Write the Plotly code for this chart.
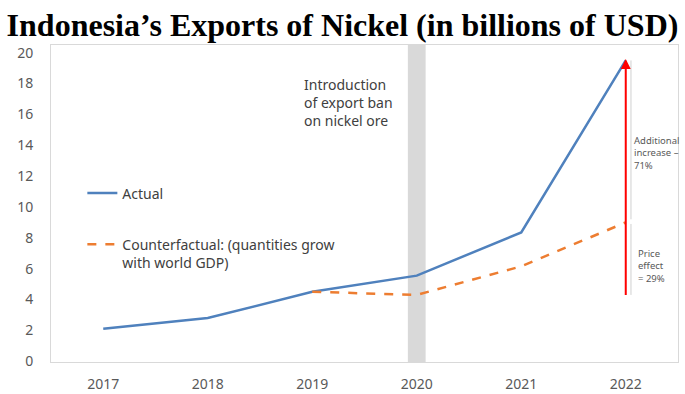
import plotly.graph_objects as go

years = [2017, 2018, 2019, 2020, 2021, 2022]
actual = [2.1, 2.8, 4.5, 5.55, 8.35, 19.5]
cf_years = [2019, 2020, 2021, 2022]
counterfactual = [4.5, 4.3, 6.15, 9.0]
y_ticks = [0, 2, 4, 6, 8, 10, 12, 14, 16, 18, 20]

BLUE = "#4f81bd"
ORANGE = "#ed7d31"
GRAY_TXT = "#595959"
FONT = "Noto Sans"

fig = go.Figure()
fig.add_trace(go.Scatter(x=years, y=actual, mode="lines", name="Actual",
                         line=dict(color=BLUE, width=2.5), legendgroup="a"))
fig.add_trace(go.Scatter(x=cf_years, y=counterfactual, mode="lines",
                         name="Counterfactual: (quantities grow<br>with world GDP)",
                         line=dict(color=ORANGE, width=2.5, dash="dash"), legendgroup="b"))

# ban band around 2020
fig.add_shape(type="rect", xref="x", yref="paper", x0=2019.915, x1=2020.085, y0=0, y1=1,
              fillcolor="#d9d9d9", line=dict(width=0), layer="below")

# brackets
fig.add_shape(type="line", xref="x", yref="y", x0=2022.05, x1=2022.05, y0=9.2, y1=19.5,
              line=dict(color="#d0d0d0", width=1))
fig.add_shape(type="line", xref="x", yref="y", x0=2022.05, x1=2022.05, y0=4.3, y1=8.9,
              line=dict(color="#d0d0d0", width=1))

# red arrow
fig.add_annotation(x=2022, y=19.6, ax=2022, ay=4.2, xref="x", yref="y", axref="x", ayref="y",
                   showarrow=True, arrowhead=2, arrowsize=1, arrowwidth=2, arrowcolor="#ff0000", text="")

fig.add_annotation(x=2022.06, y=13.5, xref="x", yref="y", xanchor="left", yanchor="middle",
                   text="Additional<br>increase –<br>71%", showarrow=False, align="left",
                   font=dict(family=FONT, size=9.5, color=GRAY_TXT))
fig.add_annotation(x=2022.1, y=6.2, xref="x", yref="y", xanchor="left", yanchor="middle",
                   text="Price<br>effect<br>= 29%", showarrow=False, align="left",
                   font=dict(family=FONT, size=9.5, color=GRAY_TXT))

fig.add_annotation(x=2018.9, y=16.75, xref="x", yref="y", xanchor="left", yanchor="middle",
                   text="Introduction<br>of export ban<br>on nickel ore", showarrow=False, align="left",
                   font=dict(family=FONT, size=14, color="#404040"))

fig.update_layout(
    width=685, height=394,
    margin=dict(l=51, r=7, t=45, b=32, autoexpand=False),
    paper_bgcolor="white", plot_bgcolor="white",
    title=dict(text="<b>Indonesia’s Exports of Nickel (in billions of USD)</b>",
               x=0.5, xanchor="center", y=0.937, yanchor="middle",
               font=dict(family="Liberation Serif", size=32, color="black")),
    legend=dict(x=0.05, y=0.582, xanchor="left", yanchor="top", bgcolor="rgba(0,0,0,0)",
                font=dict(family=FONT, size=14, color="#404040"), tracegroupgap=30,
                valign="top", traceorder="grouped", itemwidth=30),
    showlegend=True,
)
fig.update_xaxes(range=[2016.5, 2022.5], tickvals=years, ticktext=[str(y) for y in years],
                 showgrid=False, zeroline=False, showline=True, mirror=True, automargin=False,
                 linecolor="#d9d9d9", linewidth=1, ticks="", ticklabelstandoff=9,
                 tickfont=dict(family=FONT, size=14, color=GRAY_TXT))
fig.update_yaxes(range=[-0.05, 20.5], tickvals=y_ticks, showgrid=False, zeroline=False,
                 showline=True, mirror=True, linecolor="#d9d9d9", linewidth=1, ticks="",
                 automargin=False,
                 ticklabelstandoff=14, tickfont=dict(family=FONT, size=14, color=GRAY_TXT))

fig.write_html("out.html")
